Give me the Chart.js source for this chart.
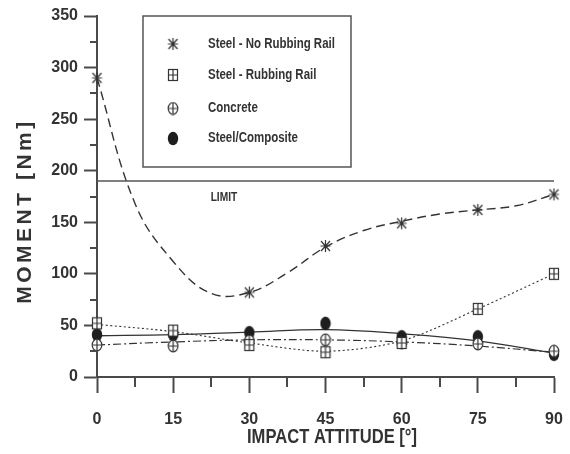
<!DOCTYPE html>
<html>
<head>
<meta charset="utf-8">
<script src="https://cdn.jsdelivr.net/npm/chart.js@4"></script>
<style>
  html, body { margin: 0; padding: 0; background: #fff; }
  #wrap { width: 570px; height: 454px; }
</style>
</head>
<body>
<div id="wrap"><canvas id="chart" width="570" height="454"></canvas></div>
<script>
/* ── Data ─────────────────────────────────────────────────────────────── */
const angles         = [0, 15, 30, 45, 60, 75, 90];
const noRubMarks     = [290, null, 82, 127, 149, 162, 177];
const rubMarks       = [52, 45, 31, 24, 33, 66, 100];
const concreteMarks  = [31, 30, 35, 36, 33, 32, 25];
const compositeMarks = [41, 41, 43, 52, 39, 39, 22];

// fitted curves as drawn in the figure
const fitAngles    = [0, 7.5, 15, 22.5, 30, 37.5, 45, 52.5, 60, 67.5, 75, 82.5, 90];
const noRubFit     = [290, 168, 112, 81, 82, 101, 126, 142, 151, 158, 162, 166, 177];
const rubFit       = [51, 44, 33, 25, 35, 66, 100];
const concreteFit  = [31, 34, 36, 36, 34, 30, 24];
const compositeFit = [40, 41, 43.5, 46, 42, 35, 23];

const limitValue = 190;
const yMax = 350, yStep = 50;
const xMax = 90, xStep = 15;

const seriesNames = ['Steel - No Rubbing Rail', 'Steel - Rubbing Rail', 'Concrete', 'Steel/Composite'];

const INK  = '#333';
const AXIS = '#4a4a4a';
const FONT = '"Liberation Sans", Arial, sans-serif';

/* ── Markers ──────────────────────────────────────────────────────────── */
function mkCanvas(w, h, draw) {
  const c = document.createElement('canvas');
  c.width = w; c.height = h;
  const g = c.getContext('2d');
  g.strokeStyle = INK; g.fillStyle = INK; g.lineWidth = 1.2;
  draw(g, w, h);
  return c;
}
const mkStar = mkCanvas(13, 14, (g, w, h) => {
  g.beginPath();
  g.moveTo(w / 2, 1); g.lineTo(w / 2, h - 1);
  g.moveTo(2, 2); g.lineTo(w - 2, h - 2);
  g.moveTo(w - 2, 2); g.lineTo(2, h - 2);
  g.moveTo(1.5, h / 2); g.lineTo(w - 1.5, h / 2);
  g.stroke();
});
const mkBox = mkCanvas(12, 14, (g, w, h) => {
  g.fillStyle = '#fff';
  g.fillRect(1, 1, w - 2, h - 2);
  g.strokeRect(1.5, 1.5, w - 3, h - 3);
  g.beginPath();
  g.moveTo(w / 2, 1.5); g.lineTo(w / 2, h - 1.5);
  g.moveTo(1.5, h / 2); g.lineTo(w - 1.5, h / 2);
  g.stroke();
});
const mkCircle = mkCanvas(12, 14, (g, w, h) => {
  g.fillStyle = '#fff';
  g.beginPath(); g.ellipse(w / 2, h / 2, w / 2 - 1.2, h / 2 - 1.2, 0, 0, Math.PI * 2);
  g.fill(); g.stroke();
  g.beginPath();
  g.moveTo(w / 2, 1.5); g.lineTo(w / 2, h - 1.5);
  g.moveTo(2, h / 2); g.lineTo(w - 2, h / 2);
  g.stroke();
});
const mkDot = mkCanvas(12, 15, (g, w, h) => {
  g.fillStyle = '#1e1e1e';
  g.beginPath(); g.ellipse(w / 2, h / 2, w / 2 - 0.8, h / 2 - 0.8, 0, 0, Math.PI * 2);
  g.fill();
});
const markers = [mkStar, mkBox, mkCircle, mkDot];

/* ── Helpers ──────────────────────────────────────────────────────────── */
const pts = (xs, ys) => xs.map((x, i) => ({ x, y: ys[i] }));

function markDs(label, ys, img) {
  return {
    label, data: pts(angles, ys), showLine: false,
    pointStyle: img, pointRadius: 6, pointHoverRadius: 6,
    clip: false
  };
}
function fitDs(xs, ys, dash, width, tension) {
  return {
    data: pts(xs, ys), borderColor: INK, borderWidth: width,
    borderDash: dash, pointRadius: 0, pointHoverRadius: 0,
    tension: tension, fill: false, clip: false
  };
}

/* ── Custom drawing: minor ticks, titles, legend, LIMIT ───────────────── */
const decor = {
  id: 'decor',
  afterDraw(chart) {
    const ctx = chart.ctx;
    const xs = chart.scales.x, ys = chart.scales.y;
    const area = chart.chartArea;
    ctx.save();

    // minor ticks
    ctx.strokeStyle = AXIS; ctx.lineWidth = 2;
    ctx.beginPath();
    for (let v = yStep / 2; v < yMax; v += yStep) {
      const py = Math.round(ys.getPixelForValue(v));
      ctx.moveTo(area.left - 7, py); ctx.lineTo(area.left, py);
    }
    for (let v = xStep / 2; v < xMax; v += xStep) {
      const px = Math.round(xs.getPixelForValue(v));
      ctx.moveTo(px, area.bottom); ctx.lineTo(px, area.bottom + 10);
    }
    ctx.stroke();

    // LIMIT label
    ctx.fillStyle = INK;
    ctx.font = 'bold 12px ' + FONT;
    ctx.textAlign = 'center'; ctx.textBaseline = 'middle';
    let w = ctx.measureText('LIMIT').width;
    ctx.fillText('LIMIT', xs.getPixelForValue(25), ys.getPixelForValue(limitValue) + 17, w * 0.85);

    // y title
    ctx.save();
    ctx.translate(25, 211);
    ctx.rotate(-Math.PI / 2);
    ctx.font = 'bold 21px ' + FONT;
    ctx.letterSpacing = '3.5px';
    ctx.fillText('MOMENT [Nm]', 0, 0);
    ctx.restore();

    // x title
    ctx.font = 'bold 20px ' + FONT;
    w = ctx.measureText('IMPACT ATTITUDE [°]').width;
    ctx.fillText('IMPACT ATTITUDE [°]', 332, 437, Math.min(w, 170));

    // legend box
    const bx = 143, by = 16, bw = 208, bh = 151;
    ctx.fillStyle = '#fff';
    ctx.fillRect(bx, by, bw, bh);
    ctx.strokeStyle = '#555'; ctx.lineWidth = 1.5;
    ctx.strokeRect(bx, by, bw, bh);
    const rows = [44, 75, 108.5, 138.5];
    ctx.font = 'bold 14px ' + FONT;
    ctx.textAlign = 'left';
    ctx.fillStyle = INK;
    rows.forEach((ry, i) => {
      const m = markers[i];
      ctx.drawImage(m, 173 - m.width / 2, ry - m.height / 2);
      const tw = ctx.measureText(seriesNames[i]).width;
      ctx.fillText(seriesNames[i], 208, ry, tw * 0.82);
    });

    ctx.restore();
  }
};

/* ── Chart ────────────────────────────────────────────────────────────── */
new Chart(document.getElementById('chart'), {
  type: 'line',
  data: {
    datasets: [
      markDs(seriesNames[0], noRubMarks, mkStar),
      markDs(seriesNames[1], rubMarks, mkBox),
      markDs(seriesNames[2], concreteMarks, mkCircle),
      markDs(seriesNames[3], compositeMarks, mkDot),
      fitDs(fitAngles, noRubFit, [9, 5], 1.4, 0.4),
      fitDs(angles, rubFit, [2, 2.5], 1.1, 0.3),
      fitDs(angles, concreteFit, [8, 3, 2, 3], 1.2, 0.4),
      fitDs(angles, compositeFit, [], 1.3, 0.4),
      {
        data: [{ x: 0, y: limitValue }, { x: xMax, y: limitValue }],
        borderColor: '#555', borderWidth: 1.6, pointRadius: 0, pointHoverRadius: 0, clip: false
      }
    ]
  },
  options: {
    responsive: false,
    animation: false,
    events: [],
    layout: { autoPadding: false, padding: { top: 16, right: 16, left: 0, bottom: 0 } },
    plugins: { legend: { display: false }, tooltip: { enabled: false } },
    scales: {
      x: {
        type: 'linear', min: 0, max: xMax,
        afterFit(s) { s.height = 77; s.paddingLeft = 0; s.paddingRight = 0; },
        border: { color: AXIS, width: 2 },
        grid: { drawOnChartArea: false, drawTicks: true, tickLength: 16, tickColor: AXIS, tickWidth: 2 },
        ticks: { stepSize: xStep, padding: 17, color: INK, font: { family: FONT, size: 16, weight: 'bold' } }
      },
      y: {
        min: 0, max: yMax,
        afterFit(s) { s.width = 97; s.paddingTop = 0; s.paddingBottom = 0; },
        border: { color: AXIS, width: 2 },
        grid: { drawOnChartArea: false, drawTicks: true, tickLength: 13, tickColor: AXIS, tickWidth: 2 },
        ticks: { stepSize: yStep, padding: 6, color: INK, font: { family: FONT, size: 16, weight: 'bold' } }
      }
    }
  },
  plugins: [decor]
});
</script>
</body>
</html>
